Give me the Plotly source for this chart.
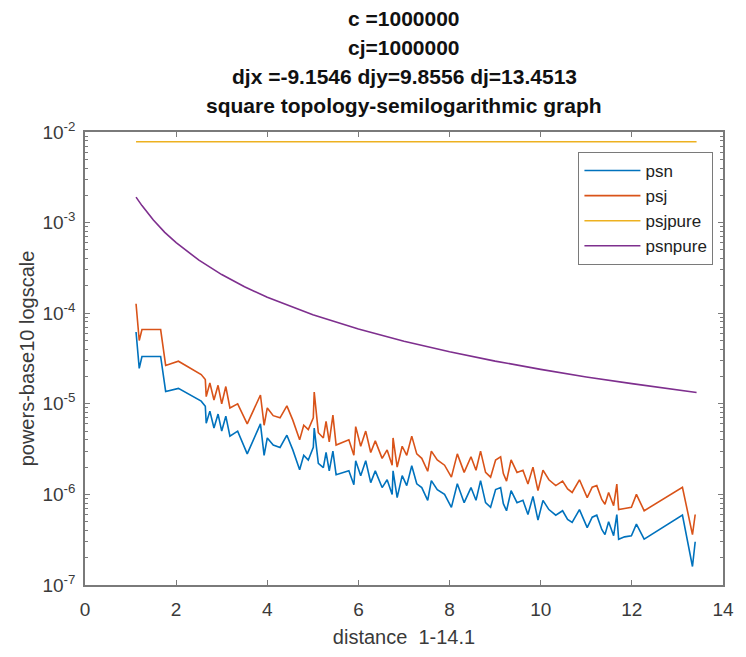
import plotly.graph_objects as go

# ---- data ----
dist = [1.12, 1.19, 1.25, 1.66, 1.77, 2.05, 2.55, 2.64, 2.66, 2.74,
        2.83, 2.92, 3.00, 3.09, 3.18, 3.35, 3.56, 3.72, 3.85, 3.93,
        4.00, 4.13, 4.28, 4.43, 4.56, 4.71, 4.80, 4.90, 5.01, 5.03,
        5.12, 5.23, 5.29, 5.36, 5.44, 5.51, 5.64, 5.79, 5.90, 5.94,
        6.05, 6.16, 6.27, 6.37, 6.52, 6.63, 6.74, 6.76, 6.85, 6.96,
        7.06, 7.17, 7.28, 7.39, 7.52, 7.60, 7.73, 7.89, 8.04, 8.17,
        8.32, 8.47, 8.58, 8.68, 8.79, 8.90, 9.01, 9.12, 9.18, 9.25,
        9.35, 9.48, 9.61, 9.72, 9.83, 9.94, 10.05, 10.18, 10.33, 10.48,
        10.59, 10.69, 10.85, 11.02, 11.13, 11.23, 11.34, 11.41, 11.49, 11.60,
        11.67, 11.71, 11.84, 11.99, 12.10, 12.27, 13.11, 13.33, 13.39]

psn = [6.2e-5, 2.46e-5, 3.33e-5, 3.33e-5, 1.37e-5, 1.48e-5, 1.07e-5, 9.4e-6, 6.1e-6, 8.3e-6,
       5.4e-6, 7.7e-6, 5.0e-6, 7.3e-6, 4.4e-6, 5.0e-6, 2.8e-6, 4.2e-6, 6.0e-6, 2.7e-6,
       4.2e-6, 3.5e-6, 3.3e-6, 4.5e-6, 3.1e-6, 1.87e-6, 2.7e-6, 2.4e-6, 3.3e-6, 5.4e-6,
       2.2e-6, 1.97e-6, 2.9e-6, 1.82e-6, 3.0e-6, 1.65e-6, 1.73e-6, 1.82e-6, 1.28e-6, 2.35e-6,
       1.61e-6, 2.35e-6, 1.35e-6, 1.82e-6, 1.19e-6, 1.45e-6, 1.0e-6, 1.82e-6, 9.2e-7, 1.61e-6,
       1.25e-6, 2.07e-6, 1.31e-6, 1.19e-6, 8.6e-7, 1.42e-6, 1.13e-6, 1.0e-6, 7.2e-7, 1.31e-6,
       8.1e-7, 1.19e-6, 8.6e-7, 1.42e-6, 8.1e-7, 7.2e-7, 1.13e-6, 1.19e-6, 7.9e-7, 6.6e-7,
       1.10e-6, 8.1e-7, 8.6e-7, 6.0e-7, 9.5e-7, 5.2e-7, 8.6e-7, 6.8e-7, 5.9e-7, 6.6e-7,
       5.3e-7, 4.9e-7, 6.8e-7, 4.3e-7, 5.6e-7, 5.9e-7, 4.1e-7, 3.6e-7, 5.0e-7, 3.5e-7,
       6.0e-7, 3.2e-7, 3.4e-7, 3.5e-7, 4.7e-7, 3.2e-7, 5.9e-7, 1.6e-7, 3.0e-7]

psj = [1.27e-4, 5.0e-5, 6.6e-5, 6.6e-5, 2.65e-5, 2.95e-5, 2.1e-5, 1.85e-5, 1.2e-5, 1.7e-5,
       1.1e-5, 1.6e-5, 1.0e-5, 1.55e-5, 9.0e-6, 1.0e-5, 6.0e-6, 8.8e-6, 1.25e-5, 5.8e-6,
       9.0e-6, 7.4e-6, 7.0e-6, 9.5e-6, 6.6e-6, 4.0e-6, 5.8e-6, 5.2e-6, 7.0e-6, 1.35e-5,
       4.8e-6, 4.2e-6, 6.4e-6, 3.8e-6, 7.5e-6, 3.5e-6, 3.7e-6, 4.0e-6, 2.7e-6, 5.6e-6,
       3.4e-6, 5.0e-6, 2.9e-6, 3.9e-6, 2.5e-6, 3.1e-6, 2.1e-6, 4.2e-6, 2.0e-6, 3.4e-6,
       2.7e-6, 4.4e-6, 2.8e-6, 2.5e-6, 1.8e-6, 3.0e-6, 2.4e-6, 2.1e-6, 1.55e-6, 2.8e-6,
       1.75e-6, 2.6e-6, 1.85e-6, 3.0e-6, 1.75e-6, 1.55e-6, 2.4e-6, 2.6e-6, 1.7e-6, 1.4e-6,
       2.4e-6, 1.75e-6, 1.85e-6, 1.3e-6, 2.0e-6, 1.1e-6, 1.85e-6, 1.45e-6, 1.25e-6, 1.4e-6,
       1.15e-6, 1.05e-6, 1.45e-6, 9.2e-7, 1.2e-6, 1.25e-6, 8.8e-7, 7.8e-7, 1.05e-6, 7.5e-7,
       1.3e-6, 6.8e-7, 7.0e-7, 7.2e-7, 1.0e-6, 6.6e-7, 1.2e-6, 3.6e-7, 6.0e-7]

pure_dist = [1.12, 1.25, 1.5, 1.75, 2.0, 2.5, 3.0, 3.5, 4.0, 5.0,
             6.0, 7.0, 8.0, 9.0, 10.0, 11.0, 12.0, 13.0, 13.42]
psnpure = [1.91e-3, 1.54e-3, 1.07e-3, 7.8e-4, 6.0e-4, 3.85e-4, 2.67e-4, 1.96e-4, 1.5e-4, 9.6e-5,
           6.7e-5, 4.9e-5, 3.75e-5, 2.96e-5, 2.4e-5, 1.98e-5, 1.67e-5, 1.42e-5, 1.33e-5]

psjpure_dist = [1.12, 13.42]
psjpure = [7.8e-3, 7.8e-3]

series_names = ["psn", "psj", "psjpure", "psnpure"]
series_colors = ["#0072BD", "#D95319", "#EDB120", "#7E2F8E"]

title_lines = ["c =1000000", "cj=1000000",
               "djx =-9.1546 djy=9.8556 dj=13.4513",
               "square topology-semilogarithmic graph"]

y_tickvals = [1e-7, 1e-6, 1e-5, 1e-4, 1e-3, 1e-2]
y_ticktext = ["10<sup>-7</sup>", "10<sup>-6</sup>", "10<sup>-5</sup>",
              "10<sup>-4</sup>", "10<sup>-3</sup>", "10<sup>-2</sup>"]
x_tickvals = [0, 2, 4, 6, 8, 10, 12, 14]

minor_vals = [m * d for d in [1e-7, 1e-6, 1e-5, 1e-4, 1e-3] for m in range(2, 10)]

# ---- figure ----
fig = go.Figure()
xs = [dist, dist, psjpure_dist, pure_dist]
ys = [psn, psj, psjpure, psnpure]
for name, color, x, y in zip(series_names, series_colors, xs, ys):
    fig.add_trace(go.Scatter(x=x, y=y, mode="lines", name=name,
                             line=dict(color=color, width=1.6)))

axis_col = "#7a7a7a"
plot_top, plot_h = 132, 456
line_centers_px = [18, 47, 76, 105]
for txt, cy in zip(title_lines, line_centers_px):
    fig.add_annotation(
        text="<b>" + txt + "</b>", xref="paper", yref="paper",
        x=0.5, y=1 + (plot_top - cy) / plot_h, xanchor="center", yanchor="middle",
        showarrow=False, font=dict(size=21, color="#111111"),
    )

fig.update_layout(
    width=746, height=657,
    margin=dict(l=85, r=13, t=132, b=69),
    paper_bgcolor="white", plot_bgcolor="white",
    font=dict(family="Liberation Sans, Arial, sans-serif", color="#3a3a3a", size=19),
    legend=dict(x=0.985, y=0.956, xanchor="right", yanchor="top",
                bordercolor=axis_col, borderwidth=1, bgcolor="white",
                font=dict(size=17, color="#222222"), tracegroupgap=0,
                itemwidth=56),
    showlegend=True,
)
fig.update_xaxes(
    range=[0, 14], tickmode="array", tickvals=x_tickvals,
    ticks="inside", ticklen=5, tickwidth=1, tickcolor=axis_col,
    showline=True, linecolor=axis_col, linewidth=1.5, mirror="ticks",
    showgrid=False, zeroline=False, ticklabelstandoff=6,
    title=dict(text="distance\u00a0 1-14.1", standoff=11, font=dict(size=20)),
)
fig.update_yaxes(
    type="log", range=[-7, -2], tickmode="array",
    tickvals=y_tickvals, ticktext=y_ticktext,
    ticks="inside", ticklen=5, tickwidth=1, tickcolor=axis_col,
    minor=dict(tickmode="array", tickvals=minor_vals, ticks="inside",
               ticklen=3, tickcolor=axis_col, showgrid=False),
    showline=True, linecolor=axis_col, linewidth=1.5, mirror="ticks",
    showgrid=False, zeroline=False, ticklabelstandoff=4,
    title=dict(text="powers-base10 logscale", standoff=2, font=dict(size=20)),
)

fig.write_html("out.html")
